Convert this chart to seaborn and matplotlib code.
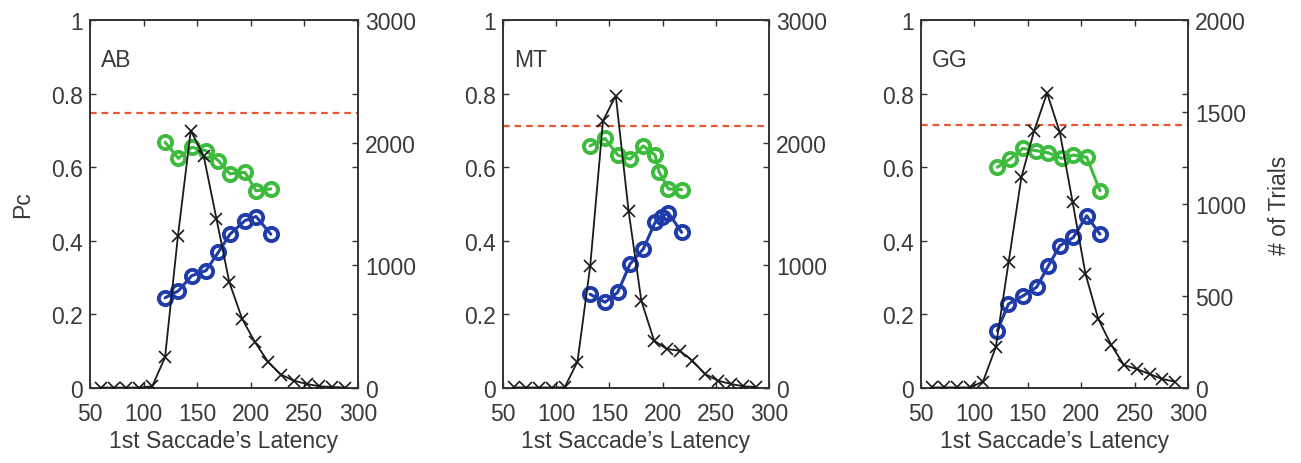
import matplotlib
matplotlib.use("Agg")
import matplotlib.pyplot as plt
import seaborn as sns
import pandas as pd

# ---------------- data ----------------
subjects = ["AB", "MT", "GG"]
latency_bins = [60, 72, 84, 96, 108, 120, 132, 144, 156, 168, 180, 192, 204, 216, 228, 240, 252, 264, 276, 288]

trials_AB = [4, 3, 3, 4, 14, 250, 1237, 2098, 1894, 1378, 861, 562, 372, 215, 110, 60, 33, 14, 8, 4]
trials_MT = [5, 4, 4, 4, 6, 215, 997, 2179, 2383, 1446, 712, 386, 318, 304, 223, 114, 60, 33, 14, 8]
trials_GG = [3, 3, 3, 3, 35, 221, 683, 1145, 1399, 1603, 1389, 1009, 620, 375, 235, 125, 103, 76, 49, 34]

green_x_AB = [120, 132.4, 144.8, 158.2, 169.7, 180.6, 194.6, 204.9, 218.6]
green_AB = [0.668, 0.624, 0.654, 0.645, 0.618, 0.582, 0.586, 0.536, 0.541]
blue_x_AB = [120, 132.4, 144.8, 158.2, 169.7, 180.6, 194.6, 204.9, 218.6]
blue_AB = [0.245, 0.264, 0.305, 0.319, 0.369, 0.418, 0.455, 0.466, 0.418]

green_x_MT = [131.8, 145.9, 157.8, 169.4, 181.9, 192.9, 196.6, 205.4, 217.9]
green_MT = [0.658, 0.678, 0.633, 0.622, 0.658, 0.633, 0.588, 0.541, 0.539]
blue_x_MT = [131.8, 145.9, 157.8, 169.4, 181.9, 192.9, 199.0, 205.4, 217.9]
blue_MT = [0.255, 0.233, 0.260, 0.337, 0.378, 0.450, 0.464, 0.476, 0.423]

green_x_GG = [121.5, 133.3, 145.2, 157.7, 169.2, 181.7, 192.6, 205.1, 217.6]
green_GG = [0.600, 0.622, 0.651, 0.645, 0.639, 0.624, 0.633, 0.627, 0.536]
blue_x_GG = [121.5, 131.8, 145.8, 158.3, 169.2, 180.1, 192.6, 205.1, 217.6]
blue_GG = [0.156, 0.228, 0.251, 0.274, 0.332, 0.387, 0.409, 0.468, 0.418]

chance_level = [0.746, 0.711, 0.715]
right_max = [3000, 3000, 2000]
right_ticks = [[0, 1000, 2000, 3000], [0, 1000, 2000, 3000], [0, 500, 1000, 1500, 2000]]
x_ticks = [50, 100, 150, 200, 250, 300]
pc_ticks = [0, 0.2, 0.4, 0.6, 0.8, 1]
pc_tick_labels = ["0", "0.2", "0.4", "0.6", "0.8", "1"]

trials = [trials_AB, trials_MT, trials_GG]
greens = [(green_x_AB, green_AB), (green_x_MT, green_MT), (green_x_GG, green_GG)]
blues = [(blue_x_AB, blue_AB), (blue_x_MT, blue_MT), (blue_x_GG, blue_GG)]

# ---------------- style ----------------
sns.set_style("white")
plt.rcParams["font.family"] = ["Liberation Sans", "DejaVu Sans"]
FS = 16.5
TXT = "#3a3a3a"
GREEN = "#3dbb3d"
BLUE = "#1f3caa"
RED = "#e8552e"

fig = plt.figure(figsize=(13.01, 4.64), dpi=100)
W, H = 1301, 464
lefts = [90, 503, 921]
widths = [268, 266, 267]

for i, name in enumerate(subjects):
    ax = fig.add_axes([lefts[i] / W, 75 / H, widths[i] / W, 368 / H])
    ax.set_xlim(50, 300)
    ax.set_ylim(0, 1)

    ax.axhline(chance_level[i], color=RED, lw=1.6, ls=(0, (3, 2.2)), zorder=1)

    gx, gy = greens[i]
    bx, by = blues[i]
    sns.lineplot(x=gx, y=gy, ax=ax, color=GREEN, lw=2.2, marker="o", ms=9.5,
                 markerfacecolor="none", markeredgecolor=GREEN, markeredgewidth=2.8,
                 estimator=None, sort=False, zorder=3)
    sns.lineplot(x=bx, y=by, ax=ax, color=BLUE, lw=2.2, marker="o", ms=9.5,
                 markerfacecolor="none", markeredgecolor=BLUE, markeredgewidth=2.8,
                 estimator=None, sort=False, zorder=3)

    ax.set_xticks(x_ticks)
    ax.set_xticklabels([str(t) for t in x_ticks])
    ax.set_yticks(pc_ticks)
    ax.set_yticklabels(pc_tick_labels)
    ax.set_xlabel("1st Saccade\u2019s Latency", fontsize=FS, color=TXT, labelpad=3)
    if i == 0:
        ax.set_ylabel("Pc", fontsize=FS, color=TXT, labelpad=12)
    else:
        ax.set_ylabel("")

    ax.text(0.041, 0.875, name, transform=ax.transAxes, fontsize=FS, color=TXT,
            ha="left", va="baseline")

    ax2 = ax.twinx()
    sns.lineplot(x=latency_bins, y=trials[i], ax=ax2, color="#1a1a1a", lw=1.3,
                 marker="x", ms=8.5, markeredgewidth=1.2, markeredgecolor="#1a1a1a",
                 estimator=None, sort=False, zorder=4)
    ax2.set_ylim(0, right_max[i])
    ax2.set_yticks(right_ticks[i])
    ax2.set_yticklabels([str(t) for t in right_ticks[i]])
    ax2.set_xlim(50, 300)
    if i == 2:
        ax2.set_ylabel("# of Trials", fontsize=FS, color=TXT, labelpad=16)
    else:
        ax2.set_ylabel("")

    # ticks / spines
    ax.yaxis.set_ticks_position("both")
    ax.xaxis.set_ticks_position("both")
    ax.tick_params(axis="both", direction="in", length=4, width=1.0, color="#333333",
                   labelsize=FS, labelcolor=TXT)
    ax.tick_params(axis="y", which="both", labelright=False, pad=5)
    ax.tick_params(axis="x", pad=10)
    ax2.tick_params(axis="y", direction="in", length=4, width=1.0, color="#333333",
                    labelsize=FS, labelcolor=TXT, pad=5)
    for a in (ax, ax2):
        for sp in a.spines.values():
            sp.set_color("#333333")
            sp.set_linewidth(1.2)

fig.savefig("out.png", dpi=100, facecolor="white")
